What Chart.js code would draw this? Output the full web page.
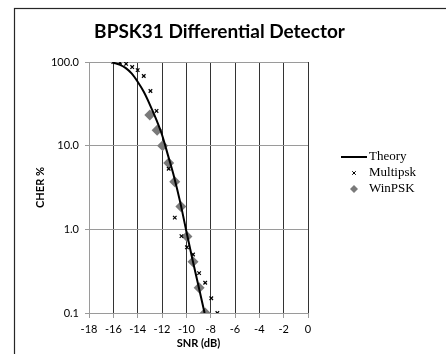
<!DOCTYPE html>
<html><head><meta charset="utf-8">
<script src="https://cdn.jsdelivr.net/npm/chart.js@4/dist/chart.umd.min.js"></script>
<style>html,body{margin:0;padding:0;background:#fff;}canvas{display:block;}</style>
</head><body>
<canvas id="c" width="446" height="354"></canvas>
<script>
// ---- data ----
const seriesNames = ['Theory', 'Multipsk', 'WinPSK'];
const theorySnr  = [-16, -15.5, -15, -14.5, -14, -13.5, -13, -12.5, -12, -11.5, -11, -10.5, -10, -9.5, -9, -8.5];
const theoryCher = [98, 93, 85, 73, 58, 44, 31, 21, 13.5, 7.6, 4.2, 2.1, 0.95, 0.44, 0.21, 0.1];
const multiSnr   = [-16, -15.45, -14.95, -14.45, -14, -13.5, -12.95, -12.45, -11.45, -10.95, -10.4, -9.95, -9.45, -8.95, -8.45, -7.95, -7.45];
const multiCher  = [100, 98, 95, 87, 80, 68, 45, 26, 5.3, 1.38, 0.83, 0.61, 0.5, 0.3, 0.23, 0.15, 0.1];
const winSnr     = [-13, -12.4, -11.95, -11.45, -10.95, -10.45, -9.95, -9.45, -8.95, -8.45];
const winCher    = [23.3, 15.3, 10, 6.2, 3.7, 1.87, 0.82, 0.41, 0.2, 0.1];
const xTicks = [-18, -16, -14, -12, -10, -8, -6, -4, -2, 0];
const yTicks = [0.1, 1, 10, 100];
const yTickLabels = ['0.1', '1.0', '10.0', '100.0'];

const toPts = (xs, ys) => xs.map((x, i) => ({x: x, y: ys[i]}));

const frame = {
  id: 'frame',
  beforeDraw(chart) {
    const ctx = chart.ctx;
    ctx.save();
    ctx.fillStyle = '#fff';
    ctx.fillRect(0, 0, chart.width, chart.height);
    ctx.strokeStyle = '#262626';
    ctx.lineWidth = 1.2;
    ctx.strokeRect(14.5, 8.5, 1000, 1000);
    ctx.restore();
  }
};

const legendBox = {
  id: 'legendBox',
  afterDraw(chart) {
    const ctx = chart.ctx;
    const ys = [157, 173, 189];
    chart.data.datasets.forEach((ds, i) => {
      const y = ys[i];
      ctx.save();
      if (ds.type === 'line') {
        ctx.strokeStyle = ds.borderColor;
        ctx.lineWidth = ds.borderWidth;
        ctx.beginPath();
        ctx.moveTo(341, y);
        ctx.lineTo(367, y);
        ctx.stroke();
      } else {
        ctx.fillStyle = ds.pointBackgroundColor;
        ctx.strokeStyle = ds.pointBorderColor;
        Chart.helpers.drawPoint(ctx, {pointStyle: ds.pointStyle, rotation: 0,
          radius: ds.legendRadius, borderWidth: ds.pointBorderWidth}, 354, y);
      }
      ctx.fillStyle = '#000';
      ctx.font = '13px "Liberation Serif"';
      ctx.textAlign = 'left';
      ctx.textBaseline = 'middle';
      ctx.fillText(ds.label, 369, y);
      ctx.restore();
    });
  }
};

new Chart(document.getElementById('c'), {
  type: 'scatter',
  data: {
    datasets: [
      { type: 'line', label: seriesNames[0], data: toPts(theorySnr, theoryCher),
        borderColor: '#000', borderWidth: 2, pointRadius: 0, fill: false,
        cubicInterpolationMode: 'monotone', showLine: true },
      { label: seriesNames[1], data: toPts(multiSnr, multiCher),
        pointStyle: 'crossRot', pointRadius: 2.5, legendRadius: 2.5, pointBorderWidth: 1.2,
        pointBorderColor: '#000', pointBackgroundColor: '#000', showLine: false },
      { label: seriesNames[2], data: toPts(winSnr, winCher),
        pointStyle: 'rectRot', pointRadius: 5.5, legendRadius: 4, pointBorderWidth: 0,
        pointBorderColor: '#7a7a7a', pointBackgroundColor: '#7a7a7a', showLine: false }
    ]
  },
  options: {
    responsive: false,
    animation: false,
    layout: { padding: { left: 0, right: 7, top: 0, bottom: 0 } },
    plugins: {
      legend: { display: false },
      tooltip: { enabled: false },
      title: { display: true, text: 'BPSK31 Differential Detector', color: '#000',
        font: { family: 'Lato', size: 19, weight: 'bold' }, padding: { top: 20, bottom: 19.2 } }
    },
    scales: {
      x: {
        type: 'linear', position: 'bottom', min: -18, max: 0,
        afterBuildTicks: s => { s.ticks = xTicks.map(v => ({value: v})); },
        afterFit: s => { s.height = 41; },
        ticks: { autoSkip: false, maxRotation: 0, padding: 5, color: '#000',
          font: { family: 'Lato', size: 11 }, callback: v => String(v) },
        grid: { color: c => (c.tick && c.tick.value === -18) ? '#9a9a9a' : '#333',
          tickColor: '#9a9a9a', tickLength: 5, lineWidth: 1 },
        border: { color: '#9a9a9a' },
        title: { display: true, text: 'SNR (dB)', color: '#000',
          font: { family: 'Lato', size: 11, weight: 'bold' }, padding: { top: 0, bottom: 4.4 } }
      },
      y: {
        type: 'logarithmic', position: 'left', min: 0.1, max: 100,
        afterBuildTicks: s => { s.ticks = yTicks.map(v => ({value: v})); },
        afterFit: s => { s.width = 89; },
        ticks: { autoSkip: false, padding: 6, color: '#000',
          font: { family: 'Lato', size: 11 },
          callback: v => yTickLabels[yTicks.indexOf(v)] },
        grid: { color: '#9a9a9a', tickColor: '#9a9a9a', tickLength: 4, lineWidth: 1 },
        border: { color: '#9a9a9a' },
        title: { display: true, text: 'CHER %', color: '#000',
          font: { family: 'Lato', size: 11, weight: 'bold' }, padding: { top: 33.4, bottom: 0 } }
      },
      spacer: {
        type: 'linear', position: 'right', display: true,
        afterFit: s => { s.width = 131; },
        ticks: { display: false }, grid: { display: false, drawTicks: false },
        border: { display: false }
      }
    }
  },
  plugins: [frame, legendBox]
});
</script>
</body></html>
